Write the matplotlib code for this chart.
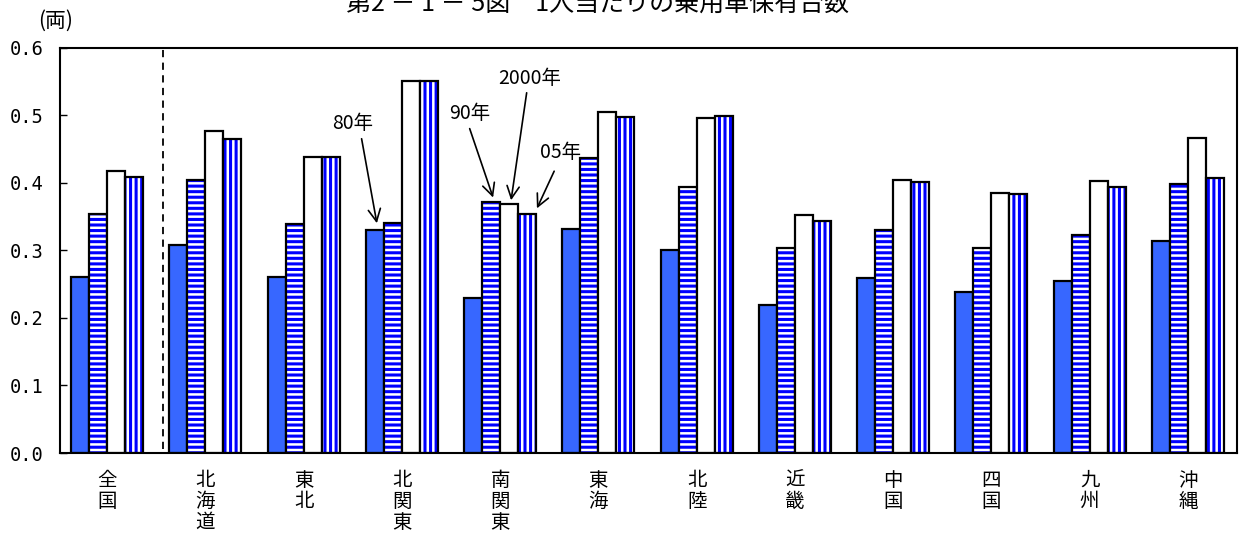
import matplotlib
matplotlib.use("Agg")
import matplotlib.pyplot as plt
import numpy as np

plt.rcParams['font.family'] = ['Noto Sans CJK JP', 'DejaVu Sans']

# regions and car ownership per person (vehicles) for 1980, 1990, 2000, 2005
regions = ["全国", "北海道", "東北", "北関東", "南関東", "東海", "北陸", "近畿", "中国", "四国", "九州", "沖縄"]
y1980 = [0.261, 0.308, 0.260, 0.330, 0.230, 0.331, 0.300, 0.219, 0.259, 0.238, 0.254, 0.314]
y1990 = [0.354, 0.404, 0.339, 0.341, 0.371, 0.436, 0.393, 0.304, 0.330, 0.303, 0.322, 0.398]
y2000 = [0.418, 0.476, 0.438, 0.550, 0.368, 0.505, 0.495, 0.352, 0.404, 0.384, 0.402, 0.466]
y2005 = [0.409, 0.465, 0.438, 0.550, 0.353, 0.497, 0.498, 0.344, 0.401, 0.383, 0.394, 0.407]

fig = plt.figure(figsize=(12.39, 5.40), dpi=100)
ax = fig.add_axes([0.0484, 0.1611, 0.95, 0.7509])

x = np.arange(len(regions))
w = 0.183
plt.rcParams['hatch.linewidth'] = 2.2

# 80: solid blue
ax.bar(x - 1.5 * w, y1980, w, color='#3767FF', edgecolor='black', linewidth=1.6)
# 90: horizontal blue stripes
ax.bar(x - 0.5 * w, y1990, w, color='white', edgecolor='#0000FF', linewidth=0, hatch='---')
ax.bar(x - 0.5 * w, y1990, w, color='none', edgecolor='black', linewidth=1.6)
# 2000: white
ax.bar(x + 0.5 * w, y2000, w, color='white', edgecolor='black', linewidth=1.6)
# 05: vertical blue stripes
ax.bar(x + 1.5 * w, y2005, w, color='white', edgecolor='#0000FF', linewidth=0, hatch='|||')
ax.bar(x + 1.5 * w, y2005, w, color='none', edgecolor='black', linewidth=1.6)

# separator between national figure and regions
ax.axvline(0.57, ymin=0.01, color='black', linestyle=(0, (4, 3)), linewidth=1.3)

ax.set_xlim(-0.48, 11.5)
ax.set_ylim(0, 0.6)
ax.set_yticks(np.arange(0, 0.61, 0.1))
ax.set_yticklabels([f"{v:.1f}" for v in np.arange(0, 0.61, 0.1)], fontsize=13.5,
                   family='DejaVu Sans Mono')
ax.tick_params(axis='y', direction='in', length=5, width=1, pad=12)
ax.set_xticks(x)
ax.set_xticklabels(["\n".join(r) for r in regions], fontsize=14, linespacing=1.0, va='top')
ax.tick_params(axis='x', length=0, pad=12)
for s in ax.spines.values():
    s.set_linewidth(1.5)

# year labels with arrows
arrow = dict(arrowstyle='->', lw=1.2, color='black', mutation_scale=22, shrinkA=0, shrinkB=0)
ax.annotate('', xy=(3 - 1.5 * w + 0.02, y1980[3] + 0.010), xytext=(2.59, 0.465), arrowprops=arrow)
ax.text(2.50, 0.488, "80年", fontsize=14, ha='center', va='center')
ax.annotate('', xy=(4 - 0.5 * w + 0.02, y1990[4] + 0.007), xytext=(3.69, 0.480), arrowprops=arrow)
ax.text(3.69, 0.502, "90年", fontsize=14, ha='center', va='center')
ax.annotate('', xy=(4 + 0.5 * w + 0.02, y2000[4] + 0.006), xytext=(4.27, 0.533), arrowprops=arrow)
ax.text(4.30, 0.554, "2000年", fontsize=14, ha='center', va='center')
ax.annotate('', xy=(4 + 1.5 * w + 0.10, y2005[4] + 0.009), xytext=(4.55, 0.417), arrowprops=arrow)
ax.text(4.61, 0.445, "05年", fontsize=14, ha='center', va='center')

fig.text(0.482, 1 - 4 / 540, "第2 － 1 － 5図　1人当たりの乗用車保有台数", fontsize=18,
         ha='center', va='center')
fig.text(0.045, 1 - 21 / 540, "(両)", fontsize=15, ha='center', va='center')

plt.savefig("out.png", dpi=100)
